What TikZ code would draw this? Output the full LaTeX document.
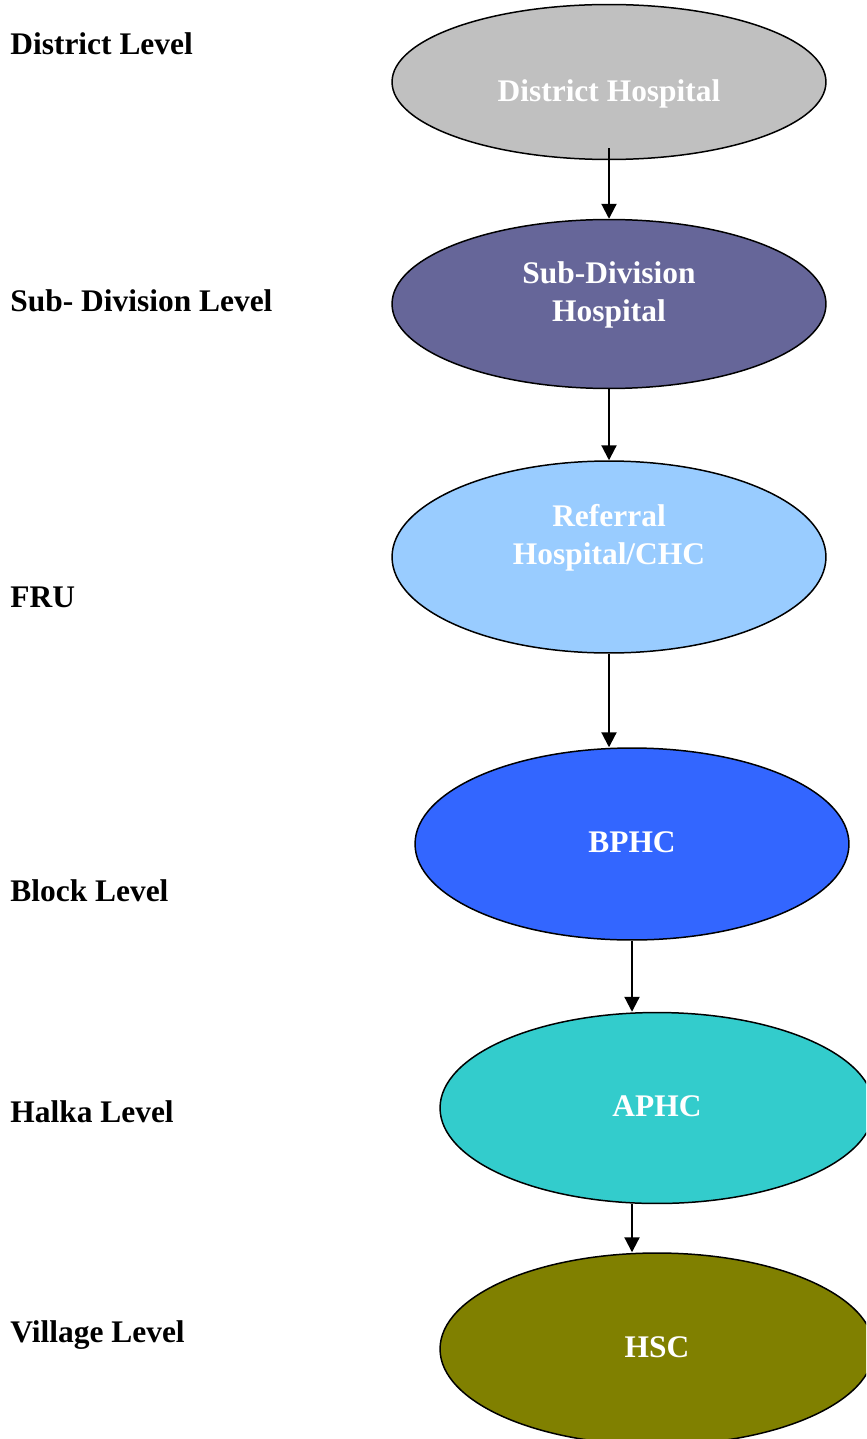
\documentclass[tikz,border=0pt]{standalone}
\usepackage{fontspec}
\setmainfont{Liberation Serif}
\usetikzlibrary{shapes.geometric,arrows.meta}
\definecolor{distgray}{RGB}{192,192,192}
\definecolor{subdivblue}{RGB}{102,102,153}
\definecolor{referralblue}{RGB}{153,204,255}
\definecolor{bphcblue}{RGB}{51,102,255}
\definecolor{aphcteal}{RGB}{51,204,204}
\definecolor{hscolive}{RGB}{128,128,0}
\tikzset{
unit/.style={ellipse,draw=black,line width=0.85pt,minimum width=8.68cm,inner sep=0pt},
inside/.style={text=white,font=\fontsize{17.9}{21.6}\selectfont\bfseries,align=center,inner sep=0pt},
level/.style={anchor=base west,font=\fontsize{17.9}{21.6}\selectfont\bfseries,inner sep=0pt},
link/.style={line width=1.2pt,-{Triangle[length=0.3cm,width=0.3cm]}},
}

\begin{document}
\begin{tikzpicture}[
x=0.02cm, y=-0.02cm,
]
\clip (0,0) rectangle (866,1439);
% hospitals
\node[unit,fill=distgray,minimum height=3.1cm] (dh) at (609,82) {};
\node[unit,fill=subdivblue,minimum height=3.38cm] (sdh) at (609,304) {};
\node[unit,fill=referralblue,minimum height=3.84cm] (ref) at (609,557) {};
\node[unit,fill=bphcblue,minimum height=3.84cm] (bphc) at (632,844) {};
\node[unit,fill=aphcteal,minimum height=3.82cm] (aphc) at (657,1108) {};
\node[unit,fill=hscolive,minimum height=3.84cm] (hsc) at (657,1349) {};
\node[inside,anchor=base] (dhtext) at (609,102) {District Hospital};
\node[inside,anchor=base] (sdhtext) at (609,321) {Sub-Division\\Hospital};
\node[inside,anchor=base] (reftext) at (609,564) {Referral\\Hospital/CHC};
\node[inside,anchor=base] (bphctext) at (632,852) {BPHC};
\node[inside,anchor=base] (aphctext) at (657,1116) {APHC};
\node[inside,anchor=base] (hsctext) at (657,1357) {HSC};
% links
\draw[link] ([yshift=0.24cm]dh.south) -- (sdh.north);
\draw[link] (sdh.south) -- (ref.north);
\draw[link] (ref.south) -- (ref.south |- bphc.north);
\draw[link] (bphc.south) -- (bphc.south |- aphc.north);
\draw[link] (bphc.south |- aphc.south) -- (bphc.south |- hsc.north);
% levels
\node[level] (district) at (10,55) {District Level};
\node[level] (subdivision) at (10,312) {Sub- Division Level};
\node[level] (fru) at (10,607) {FRU};
\node[level] (block) at (10,901) {Block Level};
\node[level] (halka) at (10,1122) {Halka Level};
\node[level] (village) at (10,1342) {Village Level};
\end{tikzpicture}
\end{document}
